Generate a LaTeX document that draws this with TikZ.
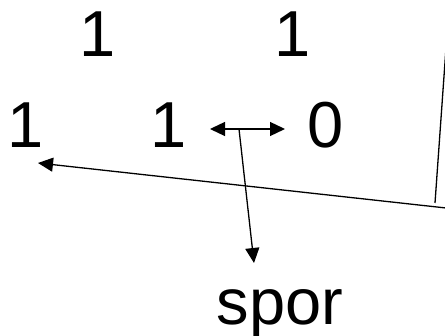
\documentclass[tikz,border=0pt]{standalone}
\usepackage{fontspec}
\setmainfont{Liberation Sans}
\usetikzlibrary{arrows.meta}
\begin{document}
\begin{tikzpicture}[x=1pt,y=-1pt,
  lbl/.style={font=\fontsize{65}{65}\selectfont,inner sep=0pt,anchor=base},
  conn/.style={line width=1.3pt,draw=black},
  tip/.style={-{Triangle[length=15pt,width=14pt]}}]
\useasboundingbox (0,0) rectangle (445,336);
\node[lbl] (t1) at (98,57) {1};
\node[lbl] (t2) at (293,57) {1};
\node[lbl] (b1) at (26,148) {1};
\node[lbl] (b2) at (169,148) {1};
\node[lbl] (b0) at (326,148) {0};
\node[lbl] (sp) at (280,325) {spor};
\coordinate (dl) at (210,129);
\coordinate (dr) at (285,129);
\coordinate (dm) at (239,129);
\coordinate (ds) at (254,263);
\coordinate (lr) at (446,208);
\coordinate (ll) at (38,163);
\coordinate (vb) at (435,203);
\coordinate (vt) at (446,48);
\draw[conn,{Triangle[length=15pt,width=14pt]}-{Triangle[length=15pt,width=14pt]}] (dl) -- (dr);
\draw[conn,tip] (dm) -- (ds);
\draw[conn,tip] (lr) -- (ll);
\draw[conn] (vb) -- (vt);
\end{tikzpicture}
\end{document}
